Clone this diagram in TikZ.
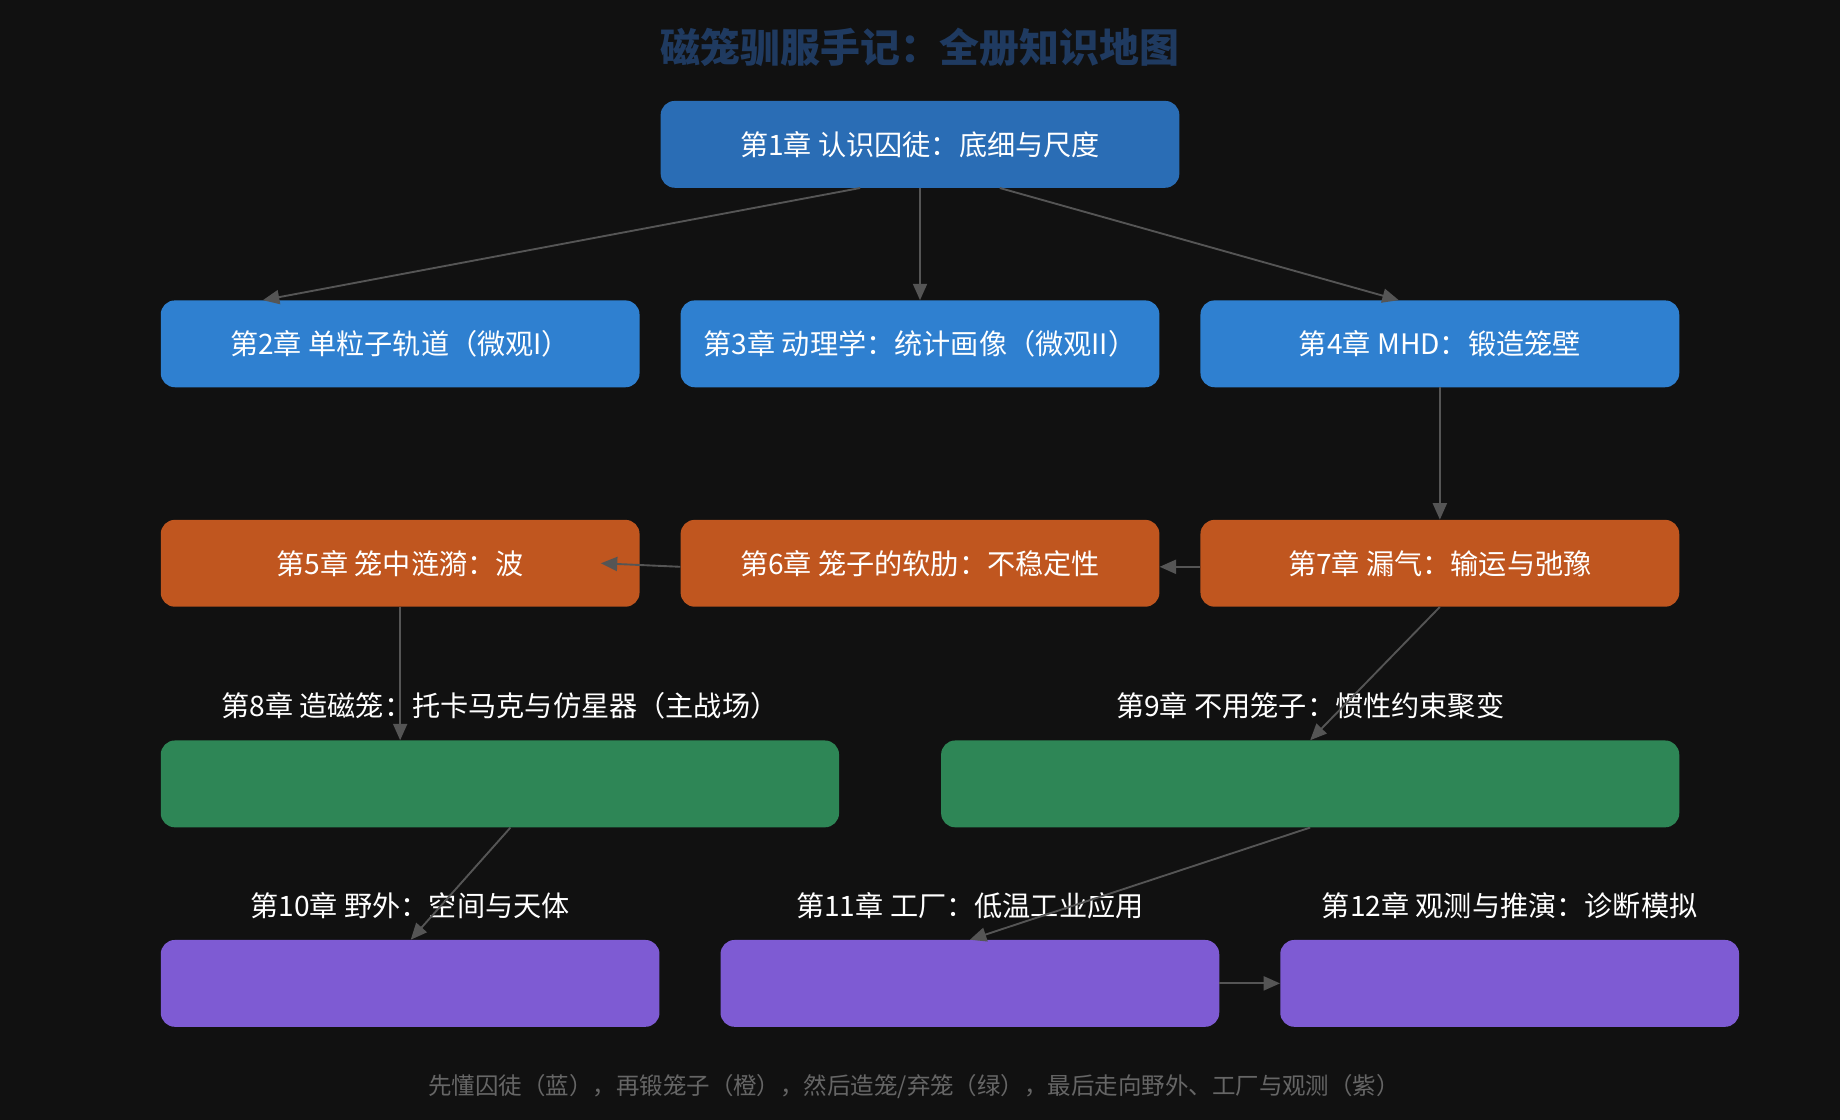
\documentclass[tikz,border=0pt]{standalone}
\usepackage{fontspec}
\setmainfont{Noto Sans CJK SC}
\usetikzlibrary{arrows.meta}
\definecolor{bg}{HTML}{111111}
\definecolor{cA}{HTML}{2A6DB5}
\definecolor{cB}{HTML}{2F80D0}
\definecolor{cO}{HTML}{C0561F}
\definecolor{cG}{HTML}{2E8656}
\definecolor{cP}{HTML}{7E5BD3}
\definecolor{ttl}{HTML}{1F3A60}
\definecolor{arr}{HTML}{555555}
\begin{document}
\begin{tikzpicture}[x=1pt,y=-1pt,
  box/.style={rounded corners=12pt,inner sep=0pt,text=white,font=\fontsize{24}{28}\selectfont},
  lab/.style={text=white,font=\fontsize{24}{28}\selectfont,inner sep=0pt},
  con/.style={draw=arr,line width=1.6pt,-{Triangle[length=14pt,width=12pt]}}]
\fill[bg] (0,0) rectangle (1568,954);
\useasboundingbox (0,0) rectangle (1568,954);
\node[text=ttl,font=\bfseries\fontsize{34}{40}\selectfont] (title) at (784,40) {磁笼驯服手记：全册知识地图};
\newcommand\bx[7]{\node[box,fill=#6,minimum width={#3-#2},minimum height=74pt] (#1) at ({(#2+#3)/2},{#4+37}) {#5};}
\bx{b1}{563}{1005}{86}{第1章 认识囚徒：底细与尺度}{cA}{}
\bx{b2}{137}{545}{256}{第2章 单粒子轨道（微观I）}{cB}{}
\bx{b3}{580}{988}{256}{第3章 动理学：统计画像（微观II）}{cB}{}
\bx{b4}{1023}{1431}{256}{第4章 MHD：锻造笼壁}{cB}{}
\bx{b5}{137}{545}{443}{第5章 笼中涟漪：波}{cO}{}
\bx{b6}{580}{988}{443}{第6章 笼子的软肋：不稳定性}{cO}{}
\bx{b7}{1023}{1431}{443}{第7章 漏气：输运与弛豫}{cO}{}
\bx{b8}{137}{715}{631}{}{cG}{}
\bx{b9}{802}{1431}{631}{}{cG}{}
\bx{b10}{137}{562}{801}{}{cP}{}
\bx{b11}{614}{1039}{801}{}{cP}{}
\bx{b12}{1091}{1482}{801}{}{cP}{}
\node[lab] (t8) at ([yshift=29]b8.north) {第8章 造磁笼：托卡马克与仿星器（主战场）};
\node[lab] (t9) at ([yshift=29]b9.north) {第9章 不用笼子：惯性约束聚变};
\node[lab] (t10) at ([yshift=29]b10.north) {第10章 野外：空间与天体};
\node[lab] (t11) at ([yshift=29]b11.north) {第11章 工厂：低温工业应用};
\node[lab] (t12) at ([yshift=29]b12.north) {第12章 观测与推演：诊断模拟};
\coordinate (e56) at (512,480);
\draw[con] ([xshift=-51]b1.south) -- ([xshift=-117]b2.north);
\draw[con] (b1.south) -- (b3.north);
\draw[con] ([xshift=68]b1.south) -- ([xshift=-35]b4.north);
\draw[con] (b4.south) -- (b7.north);
\draw[con] ([yshift=-3]b7.west) -- ([yshift=-3]b6.east);
\draw[con] ([yshift=-3]b6.west) -- (e56);
\draw[con] (b5.south) -- (b8.north -| b5.south);
\draw[con] (b7.south) -- (b9.north);
\draw[con] ([xshift=9]b8.south) -- ([xshift=0.5]b10.north);
\draw[con] (b9.south) -- (b11.north);
\draw[con] (b11.east) -- (b12.west);
\node[text=arr!90,font=\fontsize{20}{24}\selectfont] (foot) at (779,926) {先懂囚徒（蓝），再锻笼子（橙），然后造笼/弃笼（绿），最后走向野外、工厂与观测（紫）};
\end{tikzpicture}
\end{document}
